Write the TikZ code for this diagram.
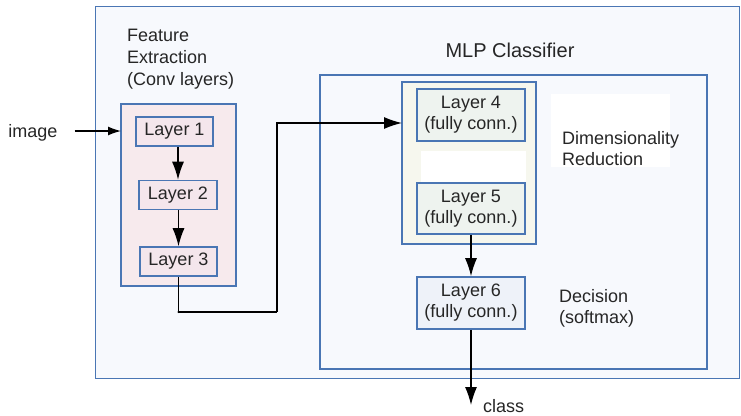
\documentclass[tikz,border=0pt]{standalone}
\usepackage{fontspec}
\setmainfont{Liberation Sans}
\usetikzlibrary{arrows.meta}

\definecolor{frameblue}{HTML}{4A76B4}
\definecolor{outerfill}{HTML}{F7F9FD}
\definecolor{convfill}{HTML}{F7EAED}
\definecolor{convlayer}{HTML}{F4E6EC}
\definecolor{redfill}{HTML}{F6F7EE}
\definecolor{fclayer}{HTML}{EEF3EF}
\definecolor{decfill}{HTML}{EEF2F9}

\begin{document}
\begin{tikzpicture}[x=1pt,y=-1pt,
  txt/.style={font=\fontsize{18}{21}\selectfont,text=black!85,inner sep=0pt},
  frame/.style={draw=frameblue,line width=1.6pt},
  convbox/.style={frame,fill=convlayer,txt,minimum width=77pt,minimum height=29pt},
  fcbox/.style={frame,txt,align=center,minimum width=108pt,minimum height=52pt},
  flow/.style={line width=1.3pt,-{Latex[length=18pt,width=12pt]}}]

\useasboundingbox (0,0) rectangle (741,415);

%% outer frame and classifier frame
\draw[frameblue,line width=1pt,fill=outerfill] (95,6) rectangle (739.5,378);
\draw[frame,fill=outerfill] (320,75) rectangle (707,369);

\node[txt,font=\fontsize{20}{24}\selectfont] (mlp) at (510,50) {MLP Classifier};

%% feature extraction
\node[txt,anchor=west,align=left,font=\fontsize{18}{22}\selectfont] (feat) at (127,59) {Feature\\Extraction\\(Conv layers)};
\draw[frame,fill=convfill] (121,104) rectangle (236,286);
\coordinate (conv) at (121,131);

\node[convbox] (l1) at (174.5,131.5) {Layer 1};
\node[convbox,minimum width=78pt] (l2) at (178,195) {Layer 2};
\node[convbox] (l3) at (178.5,261.5) {Layer 3};

\node[txt] (image) at (33,133) {image};

\draw[line width=1.3pt,-{Latex[length=13pt,width=9pt]}] ([xshift=17pt]image.east |- conv) -- (conv);
\draw[flow] (l2.north |- l1.south) -- (l2.north);
\draw[flow] (l3.north |- l2.south) -- (l3.north);

%% dimensionality reduction
\draw[frame,fill=redfill] (402,82) rectangle (536,244);
\fill[white] (551,94) rectangle (670,167);
\fill[white] (421,151) rectangle (526,183);

\node[fcbox,fill=fclayer] (l4) at (471,115) {Layer 4\\(fully conn.)};
\node[fcbox,fill=fclayer,minimum height=51pt] (l5) at (471,208.5) {Layer 5\\(fully conn.)};
\node[txt,anchor=west,align=left] (dimred) at (562,149) {Dimensionality\\Reduction};

%% decision
\node[txt,anchor=west,align=left] (dec) at (559,308) {Decision\\(softmax)};
\node[fcbox,fill=decfill] (l6) at (471,303) {Layer 6\\(fully conn.)};
\node[txt,anchor=west] (class) at (483,406) {class};

%% connectors
\coordinate (bend) at (277,312);
\coordinate (entry) at (402,123);
\coordinate (result) at (471,405);

\draw[line width=1.3pt] (l3.south) |- (bend);
\fill (l3.south |- bend) circle (1.2pt);
\draw[flow] (bend) |- (entry);
\draw[flow] (l5.south) -- (l6.north);
\draw[flow] (l6.south) -- (result);

\end{tikzpicture}
\end{document}
